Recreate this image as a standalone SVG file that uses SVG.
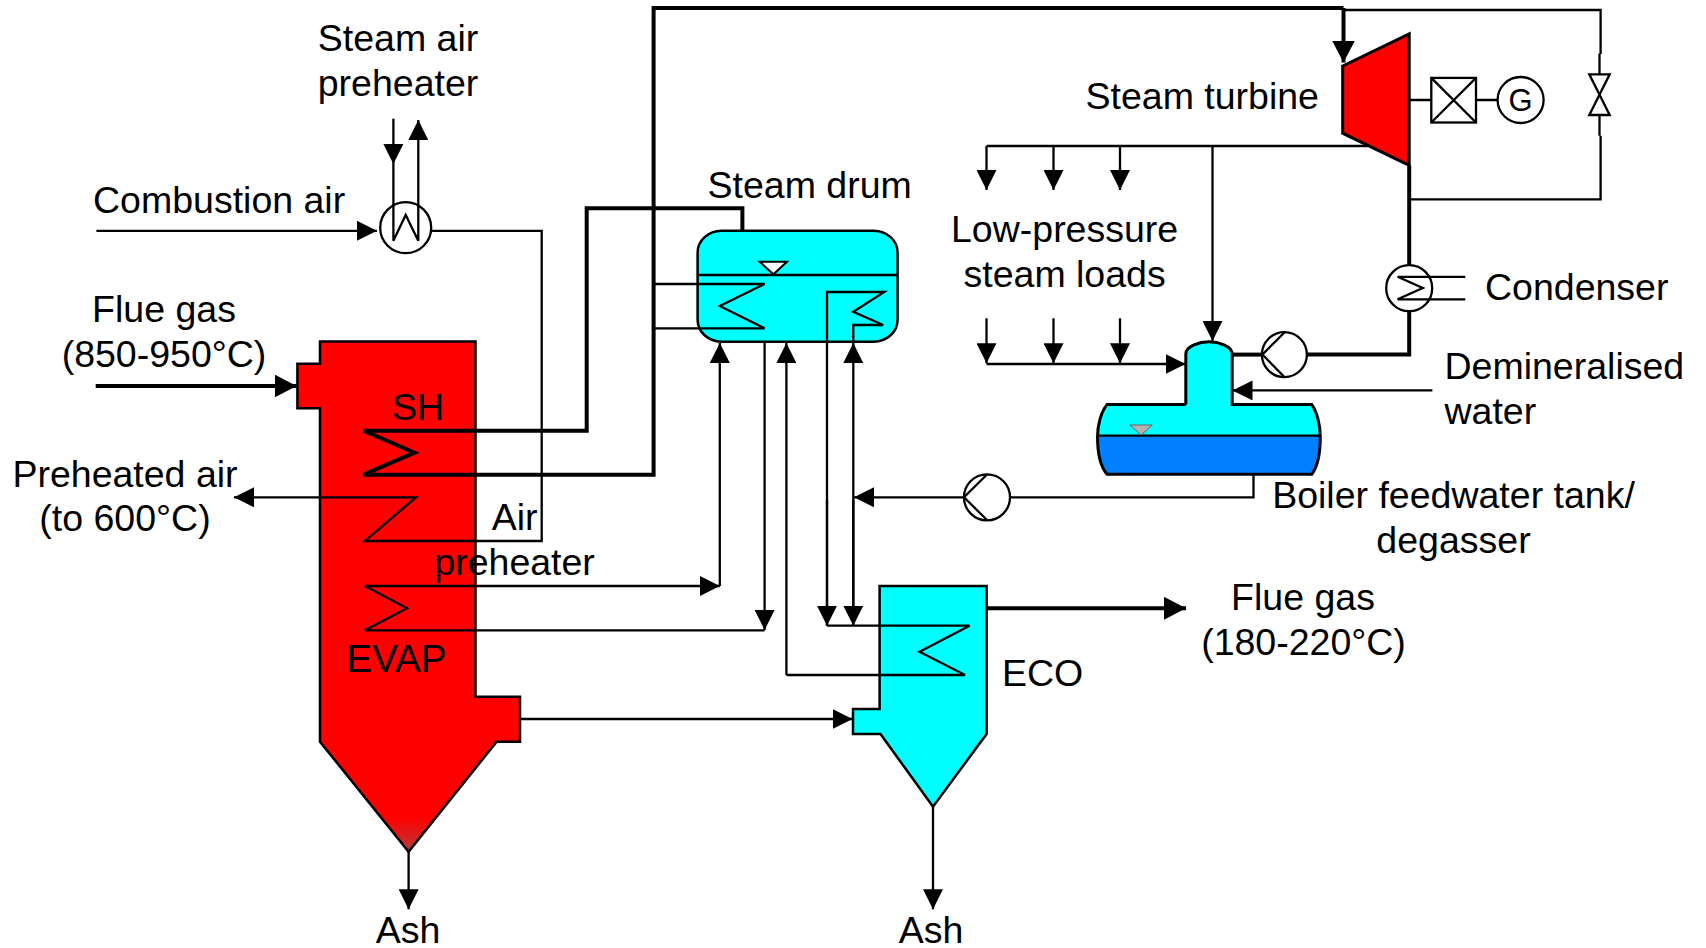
<svg xmlns="http://www.w3.org/2000/svg" width="1706" height="948" viewBox="0 0 1706 948">
<style>
text{font-family:"Liberation Sans",Arial,sans-serif;font-size:37.5px;fill:#000}
.m{text-anchor:middle}
.v{stroke:#000;stroke-width:2.5;stroke-linejoin:miter}
.t,.b,.a,.ab{fill:none;stroke:#000;stroke-linejoin:miter}
.t,.a{stroke-width:2.3}
.b,.ab{stroke-width:4}
.a{marker-end:url(#ah)}
.ab{marker-end:url(#ahb)}
.w{fill:none;stroke:#000;stroke-width:2.3}
</style>
<defs>
<marker id="ah" markerUnits="userSpaceOnUse" markerWidth="20" markerHeight="20" refX="20" refY="10" orient="auto"><path d="M0 0L20 10L0 20Z" fill="#000"/></marker>
<marker id="ahb" markerUnits="userSpaceOnUse" markerWidth="22" markerHeight="23" refX="22" refY="11.5" orient="auto"><path d="M0 0L22 11.5L0 23Z" fill="#000"/></marker>
<linearGradient id="tip" gradientUnits="userSpaceOnUse" x1="0" y1="818" x2="0" y2="852"><stop offset="0" stop-color="#f00"/><stop offset="1" stop-color="#b83a3a"/></linearGradient>
</defs>
<g id="boiler"><path class="v" fill="url(#tip)" d="M320 341.5H475.5V696.7H520V741.7H496.7L408.6 851.7L320 741.7V408.3H297.4V363.7H320Z"/></g>
<g id="economiser"><path class="v" fill="#0ff" d="M879.6 586H986.6V734L933 806.7L880.5 734H853V709H879.6Z"/></g>
<g id="steam-drum"><rect class="v" fill="#0ff" x="697.6" y="230.7" width="200" height="111" rx="24" ry="22"/><path class="t" d="M697.6 275H897.6"/><path class="v" style="stroke-width:2" fill="#fff" d="M759.6 261.7H787L773.4 274.3Z"/></g>
<g id="feedwater-tank">
<path fill="#0ff" d="M1185.8 404.6V354C1185.8 346 1200 341.8 1209 341.8S1232.2 346 1232.2 354V404.6H1311.8C1316 412 1319 424 1320.3 435.7H1097.5C1098.5 424 1102 412 1107 404.6Z"/>
<path fill="#0080ff" d="M1097.5 435.7H1320.3C1320.3 450 1318 466 1311.8 474.3H1107C1100 466 1097.5 450 1097.5 435.7Z"/>
<path class="v" style="stroke-width:3" fill="none" d="M1185.8 404.6V354C1185.8 346 1200 341.8 1209 341.8S1232.2 346 1232.2 354V404.6H1311.8C1317 412 1320.3 425 1320.3 437C1320.3 450 1318 466 1311.8 474.3H1107C1100 466 1097.5 450 1097.5 437C1097.5 425 1101 412 1107 404.6H1185.8"/>
<path class="t" d="M1097.5 435.7H1320.3"/>
<path fill="#b2b2b2" stroke="#666" stroke-width="1" d="M1130 425H1152.2L1141 435Z"/>
</g>
<g id="turbine"><path class="v" style="stroke-width:3" fill="#f00" d="M1342.7 66L1409.2 34V165.4L1342.7 133.2Z"/></g>
<g id="connectors">
<path class="a" d="M96.4 230.8H377"/>
<path class="a" d="M393.4 118.7V164"/>
<path class="t" d="M393.4 164V240.7L405.7 215L418.3 240.7V140"/>
<path class="a" d="M418.3 140V120"/>
<path class="t" d="M431 230.8H541.7V541H365L416 497.3H254"/>
<path class="a" d="M254 497.3H234"/>
<path class="ab" d="M95.7 386H296.6"/>
<path class="b" d="M742.4 230.7V208.3H586.7V430.7H363.6L414.5 452.7L363.6 474.7H653.6V8H1343.5"/>
<path class="ab" d="M1343.5 8V62.5"/>
<path class="t" d="M1343.5 10H1600.6V54"/>
<path class="t" d="M1599.5 53.6V74.3M1599.5 115V135.7"/>
<path class="t" d="M1600.6 135.7V199.3H1409"/>
<path class="t" d="M653.6 284H764.6L719.8 306L764.6 328.3H653.6"/>
<path class="t" d="M827 625.7V292H884.3L853.3 311.7L883.2 325H853.3V343"/>
<path class="a" d="M719.8 586V343"/>
<path class="a" d="M786.4 675V343"/>
<path class="a" d="M853.3 606V343"/>
<path class="a" d="M365 586H719.8"/>
<path class="t" d="M365 586L407 608.3L365 630.3H764.6"/>
<path class="a" d="M764.6 341.7V630"/>
<path class="t" d="M786.4 675H965L919.6 651.7L969.6 625.7H827"/>
<path class="a" d="M827 500V625.7"/>
<path class="a" d="M853.3 500V625.7"/>
<path class="a" d="M964 497.3H854"/>
<path class="a" d="M520 719H852.5"/>
<path class="a" d="M408.6 851.7V909.3"/>
<path class="a" d="M933 806.7V909.3"/>
<path class="ab" d="M986.6 608.3H1186"/>
<path class="t" d="M986.5 146H1368"/>
<path class="a" d="M986.5 146V190"/>
<path class="a" d="M1053.5 146V190"/>
<path class="a" d="M1120 146V190"/>
<path class="a" d="M1212.5 146V341"/>
<path class="a" d="M986.5 318.3V363.3"/>
<path class="a" d="M1053.5 318.3V363.3"/>
<path class="a" d="M1120 318.3V363.3"/>
<path class="a" d="M986.5 364H1185.5"/>
<path class="b" d="M1409.2 165.4V265.5"/>
<path class="b" d="M1409.2 310.7V354.6H1307"/>
<path class="b" d="M1262 354.6H1232.2"/>
<path class="t" d="M1465.3 276.8H1397.6L1422.8 288L1397.6 299.3H1465.3"/>
<path class="a" d="M1432.4 390.4H1232.5"/>
<path class="t" d="M1253.5 474.3V497.3H1010"/>
<path class="t" d="M1409.2 100H1431.3M1476 100H1498"/>
</g>
<g id="steam-air-preheater"><circle class="w" cx="405.7" cy="227.7" r="25.5"/></g>
<g id="condenser"><circle class="w" cx="1409.2" cy="288.2" r="23"/></g>
<g id="condensate-pump"><circle class="w" cx="1284.4" cy="354.6" r="22.5"/><path class="t" d="M1284.4 332.5L1262.4 354.6L1284.4 377"/></g>
<g id="feedwater-pump"><circle class="w" cx="987" cy="497.3" r="23"/><path class="t" d="M987 474.5L964 497.3L987 520"/></g>
<g id="gearbox"><rect class="w" x="1431.3" y="77.9" width="44.7" height="44.6"/><path class="t" d="M1431.3 77.9L1476 122.5M1476 77.9L1431.3 122.5"/></g>
<g id="generator"><circle class="w" cx="1520.6" cy="100" r="23"/><text class="m" x="1520.6" y="111" style="font-size:31px">G</text></g>
<g id="bypass-valve"><path class="w" d="M1589.3 74.3H1609.7L1589.3 115H1609.7Z"/></g>
<g id="labels">
<text class="m" x="398" y="50.7">Steam air</text>
<text class="m" x="398" y="96">preheater</text>
<text x="93" y="212.7">Combustion air</text>
<text class="m" x="164" y="322">Flue gas</text>
<text class="m" x="164" y="366.7">(850-950°C)</text>
<text x="392" y="420">SH</text>
<text class="m" x="125" y="486.5">Preheated air</text>
<text class="m" x="125" y="531">(to 600°C)</text>
<text class="m" x="514.6" y="529.5">Air</text>
<text class="m" x="514.6" y="575">preheater</text>
<text x="346.5" y="672.3" style="font-size:38.5px">EVAP</text>
<text class="m" x="408" y="943">Ash</text>
<text class="m" x="931" y="943">Ash</text>
<text x="707.5" y="198.3">Steam drum</text>
<text class="m" x="1064.6" y="241.7">Low-pressure</text>
<text class="m" x="1064.6" y="287">steam loads</text>
<text x="1085.5" y="109">Steam turbine</text>
<text x="1485" y="300.3">Condenser</text>
<text x="1444.5" y="379">Demineralised</text>
<text x="1444.5" y="424">water</text>
<text class="m" x="1453.5" y="508">Boiler feedwater tank/</text>
<text class="m" x="1453.5" y="553">degasser</text>
<text class="m" x="1303" y="610">Flue gas</text>
<text class="m" x="1303.5" y="655">(180-220°C)</text>
<text x="1002" y="686">ECO</text>
</g>
</svg>
